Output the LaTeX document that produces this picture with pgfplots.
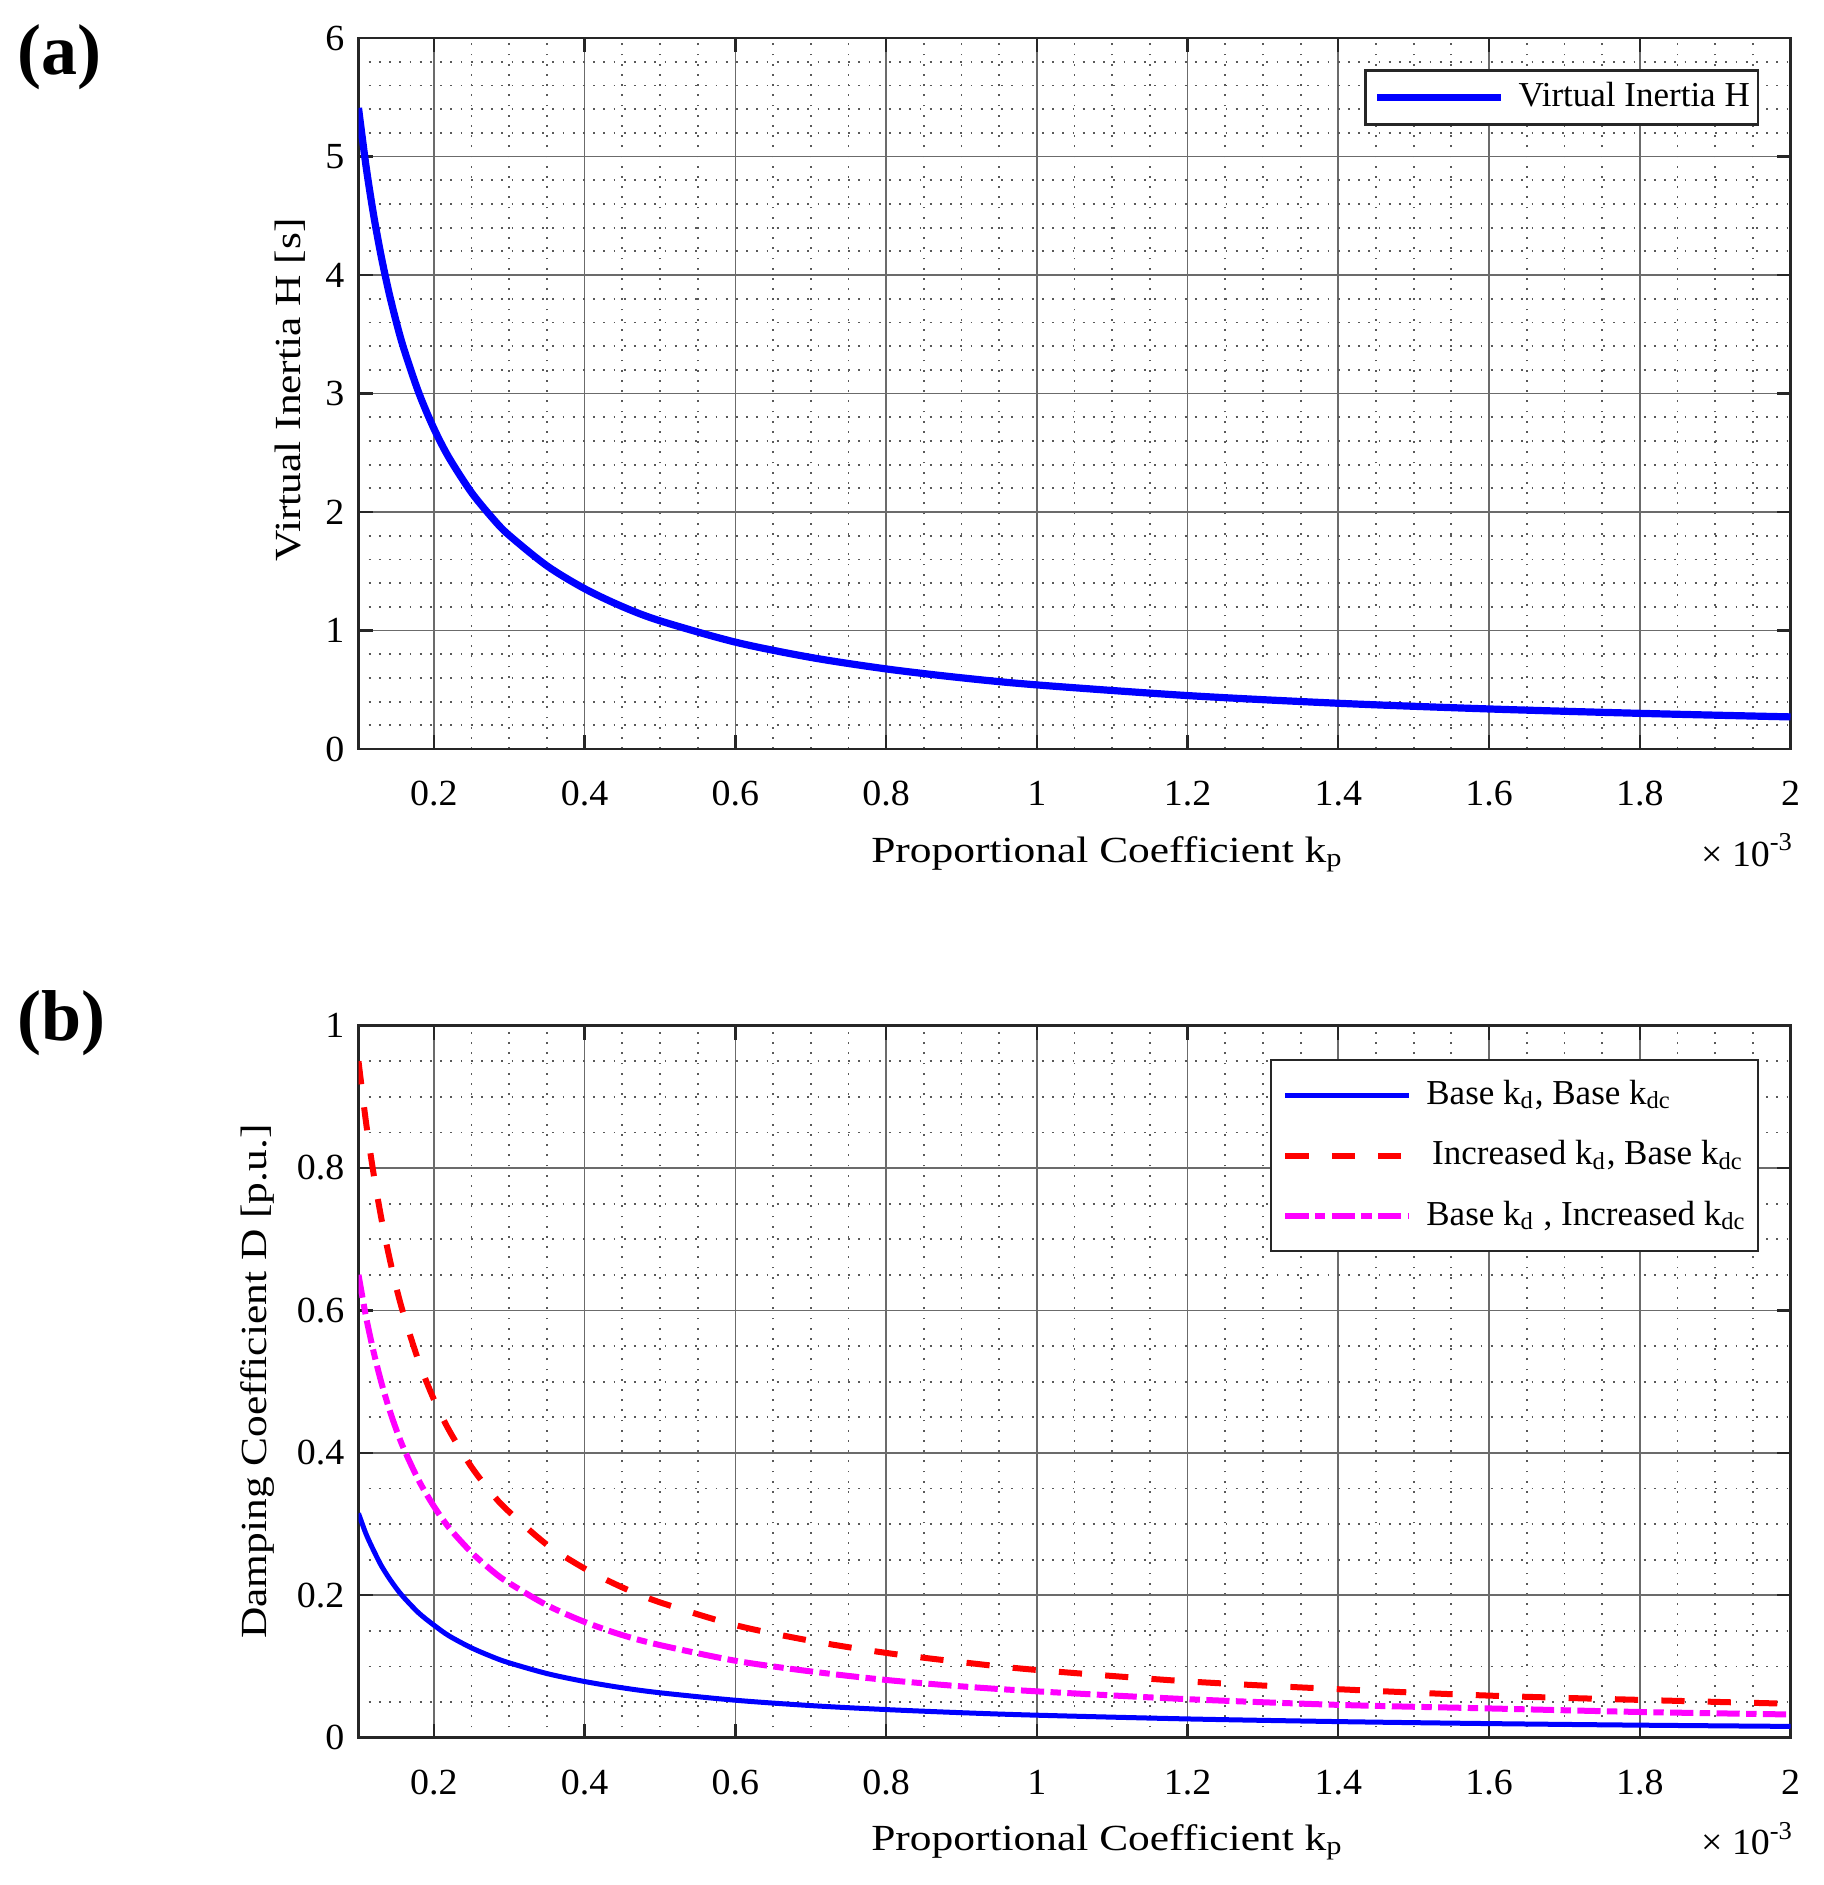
\documentclass[border=0pt]{standalone}
\usepackage{fontspec}
\setmainfont{Liberation Serif}
\newfontfamily\lblfont{Liberation Serif}[FakeStretch=1.18]
\newfontfamily\tickfont{Liberation Serif}[FakeStretch=1.03]
\usepackage{pgfplots}
\usepackage{pgfplotstable}
\pgfplotsset{compat=1.18}
\definecolor{mag}{RGB}{255,0,255}

\pgfplotstableread{
x H
0.10 5.410
0.11 4.918
0.12 4.508
0.13 4.162
0.14 3.864
0.15 3.607
0.16 3.381
0.18 3.006
0.20 2.705
0.22 2.459
0.25 2.164
0.28 1.932
0.30 1.803
0.35 1.546
0.40 1.353
0.45 1.202
0.50 1.082
0.60 0.902
0.70 0.773
0.80 0.676
0.90 0.601
1.00 0.541
1.20 0.451
1.40 0.386
1.60 0.338
1.80 0.301
2.00 0.271
}\Htable

\pgfplotstableread{
x base inckd inckdc
0.10 0.315 0.950 0.650
0.11 0.286 0.864 0.591
0.12 0.263 0.792 0.542
0.13 0.242 0.731 0.500
0.14 0.225 0.679 0.464
0.15 0.210 0.633 0.433
0.16 0.197 0.594 0.406
0.18 0.175 0.528 0.361
0.20 0.158 0.475 0.325
0.22 0.143 0.432 0.295
0.25 0.126 0.380 0.260
0.28 0.1125 0.339 0.232
0.30 0.105 0.317 0.217
0.35 0.090 0.271 0.186
0.40 0.0788 0.2375 0.1625
0.45 0.070 0.211 0.144
0.50 0.063 0.190 0.130
0.60 0.0525 0.158 0.108
0.70 0.045 0.136 0.093
0.80 0.0394 0.119 0.081
0.90 0.035 0.106 0.072
1.00 0.0315 0.095 0.065
1.20 0.02625 0.079 0.054
1.40 0.0225 0.068 0.046
1.60 0.0197 0.059 0.041
1.80 0.0175 0.053 0.036
2.00 0.01575 0.0475 0.0325
}\Dtable

\pgfplotsset{
  matlabstyle/.style={
    scale only axis,
    width=358pt,
    xmin=0.1, xmax=2,
    xtick={0.2,0.4,0.6,0.8,1,1.2,1.4,1.6,1.8,2},
    minor x tick num=3,
    grid=both,
    major grid style={black!58, line width=0.4pt},
    minor grid style={black!65, line width=0.45pt, dash pattern=on 0.45pt off 2.1pt},
    tick align=inside,
    major tick length=3.5pt,
    minor tick length=0pt,
    axis line style={black!85, line width=0.6pt},
    every tick/.style={black!85, line width=0.6pt},
    ticklabel style={font=\tickfont\fontsize{9.2}{11}\selectfont},
    /pgf/number format/assume math mode=true,
    xticklabel style={yshift=-4.5pt},
    label style={font=\lblfont\fontsize{9.2}{11}\selectfont},
    legend cell align=left,
    clip mode=individual,
    legend image code/.code={\draw[#1] (0pt,0pt) -- (31pt,0pt); \path (34.5pt,0pt);},
  }
}

\begin{document}
\begin{tikzpicture}
\useasboundingbox (0,0) rectangle (455.75pt,-471.25pt);

% ---------- (a) ----------
\begin{axis}[
  matlabstyle,
  at={(89.625pt,-187.25pt)}, anchor=south west,
  height=177.75pt,
  ymin=0, ymax=6,
  ytick={0,1,2,3,4,5,6},
  minor y tick num=4,
  xlabel={Proportional Coefficient k\textsubscript{p}},
  xlabel style={at={(axis description cs:0.523,-0.159)}, anchor=base},
  ylabel={Virtual Inertia H [s]},
  ylabel style={at={(axis description cs:-0.0478,0.505)}, anchor=center},
  legend style={at={(axis description cs:0.978,0.956)}, anchor=north east,
    draw=black!85, line width=0.6pt, fill=white,
    font=\fontsize{8.75}{10}\selectfont, inner xsep=2pt, inner ysep=2.5pt,
    nodes={inner sep=0pt, text height=6.5pt, text depth=2pt}},
]
\addplot[blue, line width=1.8pt, smooth] table[x=x, y=H] {\Htable};
\addlegendentry{Virtual Inertia H}
\node[anchor=base east, inner sep=0pt, font=\tickfont\fontsize{9.2}{11}\selectfont] at (axis description cs:1.003,-0.1646) {× 10\textsuperscript{-3}};
\end{axis}

% ---------- (b) ----------
\begin{axis}[
  matlabstyle,
  at={(89.625pt,-434.4pt)}, anchor=south west,
  height=178pt,
  ymin=0, ymax=1,
  ytick={0,0.2,0.4,0.6,0.8,1},
  minor y tick num=3,
  xlabel={Proportional Coefficient k\textsubscript{p}},
  xlabel style={at={(axis description cs:0.523,-0.159)}, anchor=base},
  ylabel={Damping Coefficient D [p.u.]},
  ylabel style={at={(axis description cs:-0.0702,0.5)}, anchor=center},
  legend style={at={(axis description cs:0.978,0.953)}, anchor=north east,
    draw=black!85, line width=0.6pt, fill=white,
    font=\fontsize{8.75}{10}\selectfont, inner xsep=2.8pt, inner ysep=4.5pt,
    nodes={inner sep=0pt, text height=6.5pt, text depth=2pt},
    row sep=6.6pt},
]
\addplot[blue, line width=1.25pt, smooth] table[x=x, y=base] {\Dtable};
\addlegendentry{Base k\textsubscript{d}, Base k\textsubscript{dc}}
\addplot[red, line width=1.5pt, smooth, dash pattern=on 5.8pt off 5.8pt] table[x=x, y=inckd] {\Dtable};
\addlegendentry{\,Increased k\textsubscript{d}, Base k\textsubscript{dc}}
\addplot[mag, line width=1.5pt, smooth, dash pattern=on 5.8pt off 1.6pt on 2.6pt off 1.6pt] table[x=x, y=inckdc] {\Dtable};
\addlegendentry{Base k\textsubscript{d} , Increased k\textsubscript{dc}}
\node[anchor=base east, inner sep=0pt, font=\tickfont\fontsize{9.2}{11}\selectfont] at (axis description cs:1.003,-0.1646) {× 10\textsuperscript{-3}};
\end{axis}

\node[anchor=base west, font=\bfseries\fontsize{18}{20}\selectfont, inner sep=0pt] at (4.25pt,-18.5pt) {(a)};
\node[anchor=base west, font=\bfseries\fontsize{18}{20}\selectfont, inner sep=0pt] at (4.25pt,-260pt) {(b)};
\end{tikzpicture}
\end{document}
